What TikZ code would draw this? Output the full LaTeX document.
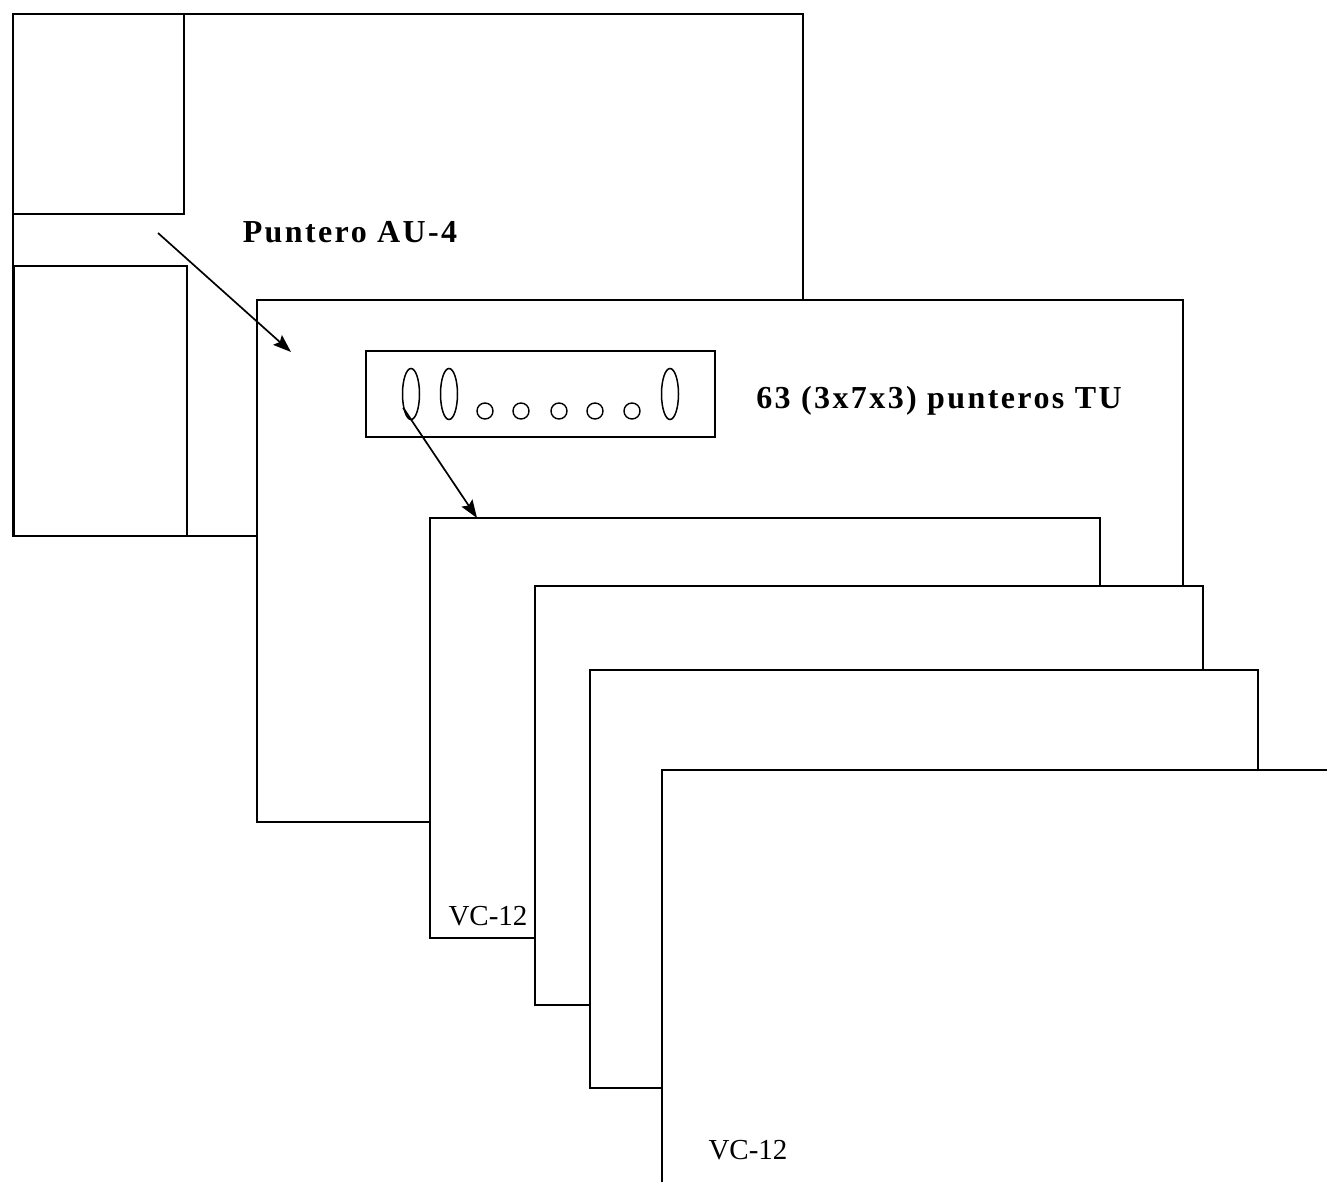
\documentclass[tikz,border=0pt]{standalone}
\usepackage{fontspec}
\setmainfont{Liberation Serif}
\newfontfamily\lblfont[LetterSpace=7.5]{Liberation Serif}
\usetikzlibrary{positioning,arrows.meta,shapes.geometric}
\tikzset{
  layer/.style={draw, fill=white, line width=1.9pt, anchor=north west, inner sep=0pt, outer sep=0pt},
  slot/.style={draw, line width=1.9pt, anchor=north west, inner sep=0pt, outer sep=0pt},
  bigptr/.style={draw, ellipse, line width=1.5pt, minimum width=17pt, minimum height=51pt, inner sep=0pt},
  smallptr/.style={draw, circle, line width=1.4pt, minimum size=16pt, inner sep=0pt},
  boldlab/.style={font=\lblfont\bfseries\fontsize{32}{38}\selectfont, inner sep=0pt},
  vclab/.style={font=\fontsize{29}{34}\selectfont, inner sep=0pt},
  pointer/.style={-{Stealth[length=18pt,width=13pt,inset=3pt]}, line width=1.7pt},
}

\begin{document}
\begin{tikzpicture}[x=1pt, y=-1pt]
  \clip (0,0) rectangle (1327,1182);
  \fill[white] (0,0) rectangle (1327,1182);

  % --- AU-4 frame with its two blocks ---
  \node[layer, minimum width=790, minimum height=522] (au4) at (13,14) {};
  \node[slot, minimum width=171, minimum height=200] (topblk) at (13,14) {};
  \node[slot, minimum width=173, minimum height=270] (botblk) at (14,266) {};

  % --- VC-4 frame carrying the TU pointers ---
  \node[layer, minimum width=926, minimum height=522] (vc4) at (257,300) {};
  \node[slot, minimum width=349, minimum height=86] (tubox) at (366,351) {};
  \node[bigptr] (ptrA) at (411,394) {};
  \node[bigptr] (ptrB) at (449,394) {};
  \foreach \i/\x in {1/485,2/521,3/559,4/595,5/632}
    \node[smallptr] (ptrs\i) at (\x,411) {};
  \node[bigptr] (ptrZ) at (670,394) {};

  % --- stacked VC-12 frames ---
  \node[layer, minimum width=670, minimum height=420] (vcA) at (430,518) {};
  \node[layer, minimum width=668, minimum height=419] (vcB) at (535,586) {};
  \node[layer, minimum width=668, minimum height=418] (vcC) at (590,670) {};
  \node[layer, minimum width=700, minimum height=450] (vcD) at (662,770) {};

  % --- labels ---
  \node[boldlab] (au4lab) at (350,232) {Puntero AU-4};
  \node[boldlab] (tulab) at (939,401) {63 (3x7x3) punteros TU};
  \node[vclab] (vcAlab) at (488,916) {VC-12};
  \node[vclab] (vcDlab) at (748,1150) {VC-12};

  % --- pointers ---
  \coordinate (au4from) at (158,233);
  \coordinate (au4to) at (291,352);
  \coordinate (tuto) at (477,518);
  \draw[pointer] (au4from) -- (au4to);
  \draw[pointer] (ptrA.240) -- (tuto);
\end{tikzpicture}
\end{document}
